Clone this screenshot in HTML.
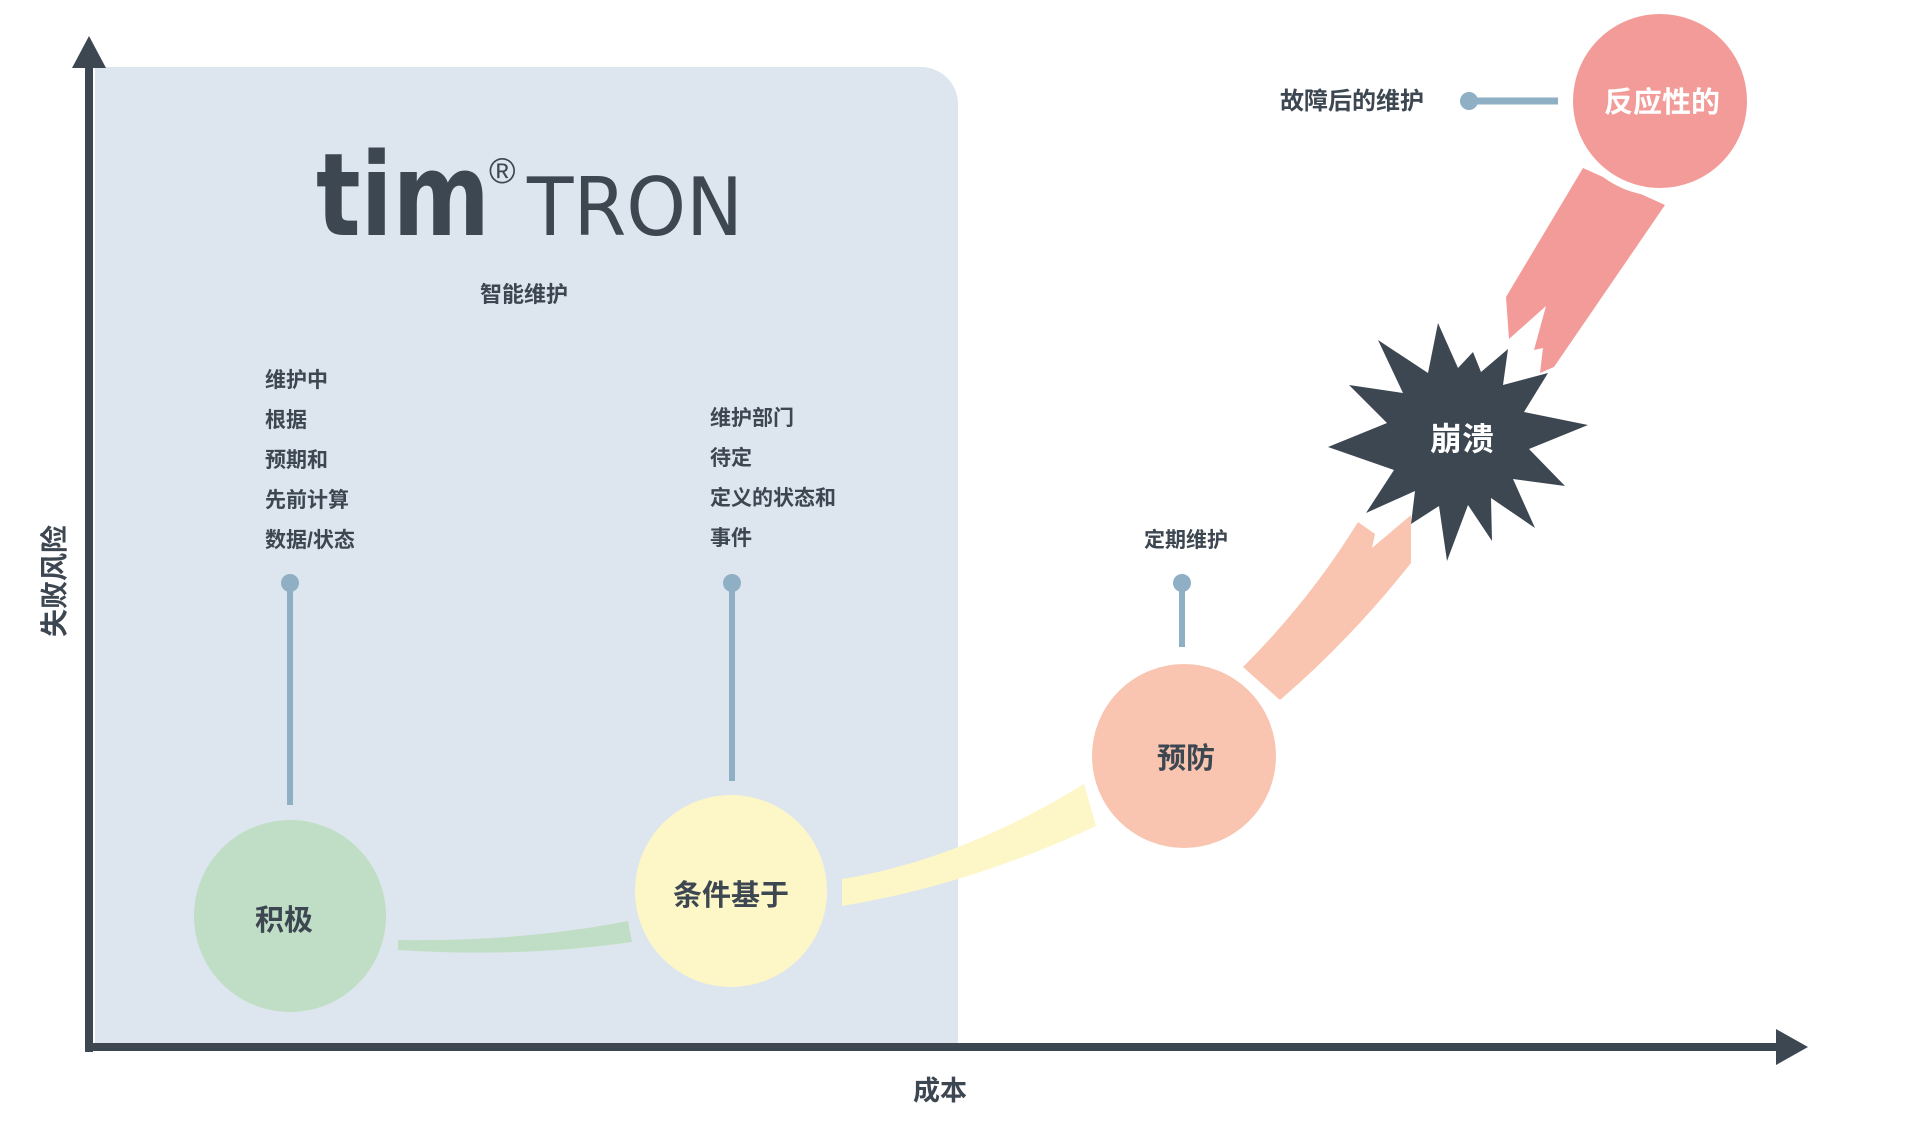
<!DOCTYPE html>
<html><head><meta charset="utf-8"><style>
html,body{margin:0;padding:0;background:#fff;}
svg{display:block;}
text{font-family:"Liberation Sans","Noto Sans CJK SC",sans-serif;font-weight:bold;fill:#3d4752;}
</style></head><body>
<svg width="1920" height="1130" viewBox="0 0 1920 1130" xmlns="http://www.w3.org/2000/svg">
<path d="M95,67 H921 A37,37 0 0 1 958,104 V1047 H95 Z" fill="#dde6ee"/>
<!-- axes -->
<rect x="85" y="62" width="8" height="990" fill="#3d4752"/>
<polygon points="89,36 72,68 106,68" fill="#3d4752"/>
<rect x="85" y="1043" width="1700" height="8" fill="#3d4752"/>
<polygon points="1808,1047 1776,1029 1776,1065" fill="#3d4752"/>
<text x="940" y="1100" font-size="27" text-anchor="middle">成本</text>
<text transform="translate(64,637) rotate(-90)" font-size="28" text-anchor="start">失败风险</text>
<!-- logo -->
<text x="316" y="235" font-size="115" style="font-family:'DejaVu Sans','Liberation Sans',sans-serif;font-weight:bold" textLength="174" lengthAdjust="spacingAndGlyphs">tim</text>
<text x="489" y="183" font-size="36" style="font-weight:normal">®</text>
<text x="527" y="235" font-size="80" style="font-weight:normal;font-family:'DejaVu Sans','Liberation Sans',sans-serif" textLength="216" lengthAdjust="spacingAndGlyphs">TRON</text>
<text x="524" y="302" font-size="22" text-anchor="middle">智能维护</text>
<g font-size="21">
<text x="265" y="387">维护中</text>
<text x="265" y="427">根据</text>
<text x="265" y="467">预期和</text>
<text x="265" y="507">先前计算</text>
<text x="265" y="547">数据/状态</text>
<text x="710" y="425">维护部门</text>
<text x="710" y="465">待定</text>
<text x="710" y="505">定义的状态和</text>
<text x="710" y="545">事件</text>
<text x="1186" y="547" text-anchor="middle">定期维护</text>
<text x="1424" y="109" text-anchor="end" font-size="24">故障后的维护</text>
</g>
<!-- pins -->
<g fill="#8fafc4" stroke="#8fafc4">
<line x1="290" y1="583" x2="290" y2="805" stroke-width="6"/><circle cx="290" cy="583" r="9" stroke="none"/>
<line x1="732" y1="583" x2="732" y2="781" stroke-width="6"/><circle cx="732" cy="583" r="9" stroke="none"/>
<line x1="1182" y1="583" x2="1182" y2="647" stroke-width="6"/><circle cx="1182" cy="583" r="9" stroke="none"/>
<line x1="1469" y1="101" x2="1558" y2="101" stroke-width="7"/><circle cx="1469" cy="101" r="9" stroke="none"/>
</g>
<!-- connectors -->
<path d="M398,940 Q520,942 628,921 L632,942 Q520,958 398,950 Z" fill="#c0dec5"/>
<path d="M842,879 Q960,860 1084,784 L1096,826 Q970,885 842,906 Z" fill="#fdf6c7"/>
<path d="M1243,667 Q1310,600 1358,522 L1375,534 L1372,548 L1411,515 L1411,563 Q1350,640 1280,700 Z" fill="#f9c5b0"/>
<path d="M1583,168 L1665,205 L1554,367 L1540,373 L1543,348 L1534,350 L1546,306 L1509,339 L1506,297 Z" fill="#f29b98"/>
<!-- circles -->
<circle cx="290" cy="916" r="96" fill="#c0dec5"/>
<circle cx="731" cy="891" r="96" fill="#fdf6c7"/>
<circle cx="1184" cy="756" r="96" fill="#f9c5b0" stroke="#fff" stroke-width="8"/>
<circle cx="1660" cy="101" r="91" fill="#f29b98" stroke="#fff" stroke-width="8"/>
<!-- starburst -->
<polygon points="1438,323 1458,368 1473,352 1481,372 1508,349 1503,385 1548,373 1524,412 1588,425 1529,449 1565,486 1513,479 1535,528 1491,498 1492,541 1468,505 1447,561 1439,506 1411,524 1415,491 1366,513 1394,470 1328,447 1387,423 1349,385 1403,393 1378,340 1428,373" fill="#3d4752"/>
<g font-size="29" text-anchor="middle">
<text x="284" y="930">积极</text>
<text x="731" y="905">条件基于</text>
<text x="1186" y="768">预防</text>
<text x="1662" y="112" style="fill:#fff">反应性的</text>
<text x="1462" y="450" style="fill:#fff" font-size="32">崩溃</text>
</g>
</svg>
</body></html>
